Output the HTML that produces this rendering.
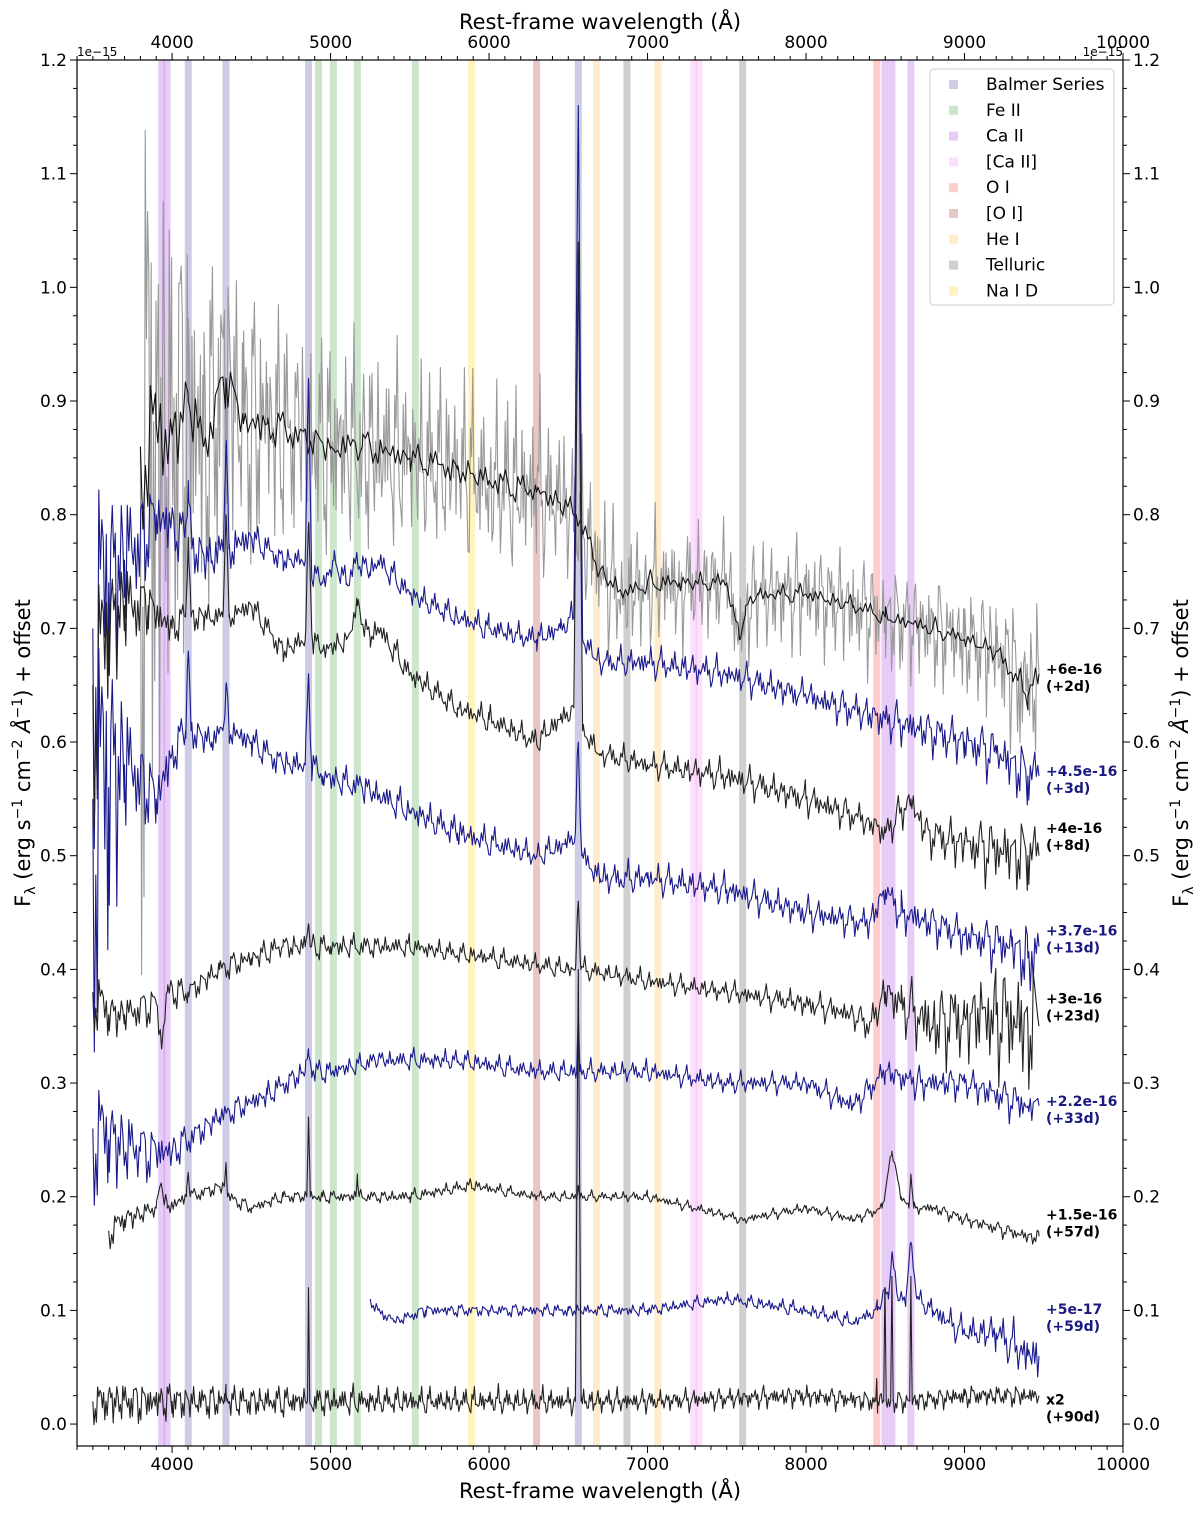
<!DOCTYPE html>
<html><head><meta charset="utf-8"><style>
body{margin:0;background:#fff;font-family:"Liberation Sans","DejaVu Sans",sans-serif}
svg text{font-family:"DejaVu Sans","Liberation Sans",sans-serif}
</style></head><body>
<svg id="c" width="1200" height="1512" xmlns="http://www.w3.org/2000/svg"></svg>
<script>
const bandLines=[{n:'Balmer Series',c:'#8080c0',l:[4102,4340,4861,6563]},{n:'Fe II',c:'#80c080',l:[4924,5018,5169,5535]},{n:'Ca II',c:'#c080e8',l:[3934,3968,8498,8542,8662]},{n:'[Ca II]',c:'#f4b0f4',l:[7291,7324]},{n:'O I',c:'#ff8080',l:[8446]},{n:'[O I]',c:'#c87070',l:[6300]},{n:'He I',c:'#ffd080',l:[6678,7065]},{n:'Telluric',c:'#888888',l:[6870,7600]},{n:'Na I D',c:'#ffe060',l:[5890]}];
const xTicks=[4000,5000,6000,7000,8000,9000,10000];
const yTicks=[0.0,0.1,0.2,0.3,0.4,0.5,0.6,0.7,0.8,0.9,1.0,1.1,1.2];
const s1Lam=[3800,3900,4000,4102,4200,4340,4450,4600,4800,5000,5200,5500,5800,6000,6300,6450,6550,6650,6700,6850,7000,7200,7500,7580,7620,7700,8000,8300,8500,8800,9000,9200,9300,9400,9470];
const s1Flux=[0.86,0.88,0.87,0.90,0.86,0.92,0.88,0.88,0.87,0.86,0.86,0.85,0.84,0.83,0.82,0.81,0.80,0.77,0.75,0.73,0.74,0.74,0.74,0.69,0.72,0.73,0.73,0.72,0.71,0.70,0.69,0.68,0.66,0.64,0.66];
const s1Noise=[0.30,0.22,0.15,0.12,0.10,0.09,0.08,0.07,0.06,0.06,0.06,0.05,0.05,0.05,0.05,0.04,0.04,0.04,0.04,0.035,0.035,0.035,0.03,0.03,0.03,0.03,0.03,0.03,0.03,0.03,0.03,0.035,0.04,0.05,0.05];
const s2Lam=[3500,3600,3700,3800,3900,4080,4102,4125,4250,4320,4340,4360,4500,4700,4840,4861,4880,4950,5000,5020,5100,5169,5250,5300,5500,5800,6000,6300,6450,6535,6563,6590,6700,7000,7500,8000,8500,9000,9200,9400,9470];
const s2Flux=[0.70,0.74,0.76,0.78,0.80,0.78,0.83,0.77,0.76,0.77,0.86,0.77,0.78,0.76,0.76,0.92,0.75,0.74,0.75,0.76,0.74,0.76,0.75,0.76,0.73,0.71,0.70,0.69,0.70,0.71,1.16,0.69,0.67,0.67,0.66,0.64,0.62,0.60,0.59,0.57,0.57];
const s2Noise=[0.18,0.10,0.06,0.04,0.03,0.02,0.02,0.02,0.02,0.02,0.02,0.02,0.012,0.01,0.01,0.01,0.01,0.01,0.01,0.01,0.01,0.01,0.01,0.01,0.01,0.01,0.01,0.01,0.01,0.01,0.01,0.01,0.01,0.012,0.012,0.012,0.015,0.018,0.02,0.025,0.025];
const s3Lam=[3500,3600,3700,3850,4000,4085,4102,4120,4200,4320,4340,4360,4500,4700,4840,4861,4885,4950,5100,5169,5250,5300,5500,5800,6000,6300,6450,6535,6563,6590,6700,7000,7500,8000,8400,8500,8662,8750,9000,9400,9470];
const s3Flux=[0.65,0.70,0.72,0.72,0.70,0.71,0.78,0.71,0.71,0.71,0.80,0.71,0.72,0.68,0.69,0.79,0.69,0.68,0.69,0.72,0.69,0.70,0.66,0.63,0.62,0.60,0.62,0.63,1.04,0.61,0.59,0.58,0.57,0.55,0.53,0.52,0.55,0.52,0.51,0.50,0.50];
const s3Noise=[0.12,0.06,0.04,0.02,0.015,0.012,0.012,0.012,0.012,0.01,0.01,0.01,0.01,0.01,0.01,0.01,0.01,0.01,0.01,0.01,0.01,0.01,0.01,0.01,0.01,0.01,0.01,0.01,0.01,0.01,0.01,0.01,0.012,0.012,0.012,0.012,0.015,0.015,0.02,0.03,0.03];
const s4Lam=[3500,3600,3700,3800,3900,4000,4085,4102,4120,4250,4320,4340,4360,4500,4700,4840,4861,4880,4950,5200,5500,5800,6300,6480,6545,6563,6585,6700,7000,7500,8000,8400,8500,8600,9000,9300,9400,9470];
const s4Flux=[0.55,0.56,0.58,0.57,0.55,0.59,0.61,0.68,0.61,0.60,0.61,0.65,0.61,0.60,0.58,0.58,0.66,0.58,0.57,0.56,0.54,0.52,0.50,0.51,0.52,0.60,0.50,0.48,0.48,0.47,0.45,0.44,0.47,0.45,0.43,0.42,0.41,0.42];
const s4Noise=[0.2,0.15,0.06,0.03,0.03,0.02,0.015,0.015,0.015,0.012,0.012,0.012,0.012,0.012,0.012,0.012,0.012,0.012,0.012,0.012,0.012,0.012,0.01,0.01,0.01,0.01,0.01,0.012,0.012,0.012,0.012,0.012,0.012,0.015,0.015,0.02,0.03,0.03];
const s5Lam=[3500,3600,3700,3900,3934,3970,4100,4300,4500,4700,4840,4861,4880,5000,5500,6000,6500,6545,6563,6580,7000,7500,8000,8300,8400,8500,8600,8800,9000,9200,9400,9470];
const s5Flux=[0.38,0.36,0.36,0.37,0.33,0.38,0.38,0.40,0.41,0.42,0.42,0.44,0.42,0.42,0.42,0.41,0.40,0.40,0.46,0.40,0.39,0.38,0.37,0.36,0.35,0.38,0.37,0.35,0.36,0.36,0.35,0.35];
const s5Noise=[0.03,0.02,0.015,0.015,0.015,0.015,0.01,0.01,0.01,0.01,0.01,0.01,0.01,0.01,0.008,0.008,0.008,0.008,0.008,0.008,0.008,0.008,0.01,0.01,0.012,0.015,0.02,0.03,0.035,0.04,0.05,0.05];
const s6Lam=[3500,3600,3800,4000,4300,4600,4840,4861,4880,5000,5300,5800,6300,6553,6563,6573,7000,7500,8000,8300,8500,8700,9000,9400,9470];
const s6Flux=[0.26,0.25,0.24,0.24,0.27,0.29,0.31,0.33,0.31,0.31,0.32,0.32,0.31,0.31,0.36,0.31,0.31,0.30,0.30,0.28,0.31,0.30,0.30,0.28,0.28];
const s6Noise=[0.06,0.04,0.025,0.015,0.01,0.01,0.01,0.01,0.01,0.008,0.008,0.008,0.008,0.008,0.008,0.008,0.008,0.008,0.008,0.01,0.01,0.012,0.012,0.015,0.015];
const s7Lam=[3600,3700,3900,3934,3970,4090,4102,4115,4330,4340,4350,4500,4700,4850,4861,4872,4950,5160,5169,5180,5500,5890,6300,6555,6563,6571,7000,7600,8000,8300,8480,8542,8600,8650,8662,8680,8800,9000,9400,9470];
const s7Flux=[0.17,0.18,0.19,0.21,0.19,0.20,0.22,0.20,0.21,0.23,0.20,0.19,0.20,0.20,0.27,0.20,0.20,0.20,0.22,0.20,0.20,0.21,0.20,0.20,0.21,0.20,0.20,0.18,0.19,0.18,0.19,0.24,0.20,0.19,0.22,0.19,0.19,0.18,0.165,0.165];
const s7Noise=[0.015,0.01,0.008,0.008,0.008,0.006,0.006,0.006,0.006,0.006,0.006,0.005,0.005,0.005,0.005,0.005,0.005,0.005,0.005,0.005,0.005,0.005,0.004,0.004,0.004,0.004,0.004,0.004,0.004,0.004,0.004,0.004,0.004,0.004,0.004,0.004,0.005,0.005,0.006,0.006];
const s8Lam=[5250,5300,5400,5600,6000,6500,7000,7500,8000,8300,8450,8498,8520,8542,8580,8630,8662,8700,8800,9000,9200,9400,9470];
const s8Flux=[0.11,0.10,0.09,0.10,0.10,0.10,0.10,0.11,0.10,0.09,0.10,0.12,0.11,0.15,0.11,0.11,0.16,0.11,0.10,0.08,0.08,0.06,0.06];
const s8Noise=[0.005,0.005,0.005,0.005,0.005,0.005,0.005,0.005,0.006,0.006,0.006,0.006,0.006,0.006,0.006,0.006,0.006,0.006,0.01,0.012,0.015,0.02,0.02];
const s9Lam=[3500,4000,4333,4340,4347,4854,4861,4868,5500,6000,6545,6563,6581,7000,8000,8440,8446,8452,8490,8498,8506,8534,8542,8550,8654,8662,8670,9000,9470];
const s9Flux=[0.02,0.02,0.02,0.035,0.02,0.02,0.12,0.02,0.02,0.02,0.02,0.40,0.02,0.02,0.025,0.02,0.04,0.02,0.02,0.12,0.02,0.02,0.13,0.02,0.02,0.13,0.02,0.025,0.025];
const s9Noise=[0.018,0.015,0.012,0.012,0.012,0.012,0.012,0.012,0.01,0.01,0.01,0.01,0.01,0.008,0.008,0.008,0.008,0.008,0.008,0.008,0.008,0.008,0.008,0.008,0.008,0.008,0.008,0.008,0.008];
const labelTexts=[['+6e-16','(+2d)',0.66,'#000'],['+4.5e-16','(+3d)',0.57,'#191980'],['+4e-16','(+8d)',0.52,'#000'],['+3.7e-16','(+13d)',0.43,'#191980'],['+3e-16','(+23d)',0.37,'#000'],['+2.2e-16','(+33d)',0.28,'#191980'],['+1.5e-16','(+57d)',0.18,'#000'],['+5e-17','(+59d)',0.097,'#191980'],['x2','(+90d)',0.017,'#000']];

const L=77,R=1123,T=60,B=1446,XMIN=3400,XMAX=10000,YMIN=-0.0193,YMAX=1.2;
const X=v=>L+(v-XMIN)/(XMAX-XMIN)*(R-L);
const Y=v=>B-(v-YMIN)/(YMAX-YMIN)*(B-T);
const svg=document.getElementById('c');const NS='http://www.w3.org/2000/svg';
function mk(t,a,p){const e=document.createElementNS(NS,t);for(const k in a)e.setAttribute(k,a[k]);(p||svg).appendChild(e);return e;}
function txt(x,y,s,a,p){const e=mk('text',Object.assign({x:x,y:y},a),p);e.textContent=s;return e;}
const gb=mk('g',{});
bandLines.forEach(b=>b.l.forEach(l=>{const r=mk('rect',{x:X(l)-3.5,y:T,width:7,height:B-T,fill:b.c,'fill-opacity':0.4},gb);

}));
function interp(lam,f,x){if(x<=lam[0])return f[0];for(let i=1;i<lam.length;i++)if(x<=lam[i]){const t=(x-lam[i-1])/(lam[i]-lam[i-1]);return f[i-1]+t*(f[i]-f[i-1]);}return f[f.length-1];}
function tex(i){return 0.45*Math.sin(i*2.713)+0.35*Math.sin(i*5.417+1.3)+0.25*Math.sin(i*1.173+2)+0.2*Math.sin(i*11.9+0.4);}
function spec(name,lam,f,nz,col,w,step,scale){
  const dl=step/(R-L)*(XMAX-XMIN);
  let ls=[];for(let l=lam[0];l<=lam[lam.length-1];l+=dl)ls.push(l);
  lam.forEach(l=>ls.push(l));ls.sort((a,b)=>a-b);
  const pts=ls.map((l,i)=>{const isD=lam.indexOf(l)>=0;
    let v=interp(lam,f,l)+(isD?0:scale*interp(lam,nz,l)*tex(i));
    v=Math.min(v,1.2);return X(l).toFixed(1)+','+Y(v).toFixed(1);});
  const p=mk('polyline',{points:pts.join(' '),fill:'none',stroke:col,'stroke-width':w,'stroke-linejoin':'round'});
  
  
}
spec('spectrum-2d-raw',s1Lam,s1Flux,s1Noise,'#999',1.1,1.2,1.8);
spec('spectrum-2d-smooth',s1Lam,s1Flux,s1Noise.map(v=>v*0.3),'#111',1.1,2.5,1);
spec('spectrum-3d',s2Lam,s2Flux,s2Noise,'#1a1a8c',1.1,1.5,1.3);
spec('spectrum-8d',s3Lam,s3Flux,s3Noise,'#222',1.1,1.5,1.3);
spec('spectrum-13d',s4Lam,s4Flux,s4Noise,'#1a1a8c',1.1,1.5,1.3);
spec('spectrum-23d',s5Lam,s5Flux,s5Noise,'#222',1.1,1.5,1.3);
spec('spectrum-33d',s6Lam,s6Flux,s6Noise,'#1a1a8c',1.1,1.5,1.3);
spec('spectrum-57d',s7Lam,s7Flux,s7Noise,'#222',1.1,1.5,1.3);
spec('spectrum-59d',s8Lam,s8Flux,s8Noise,'#1a1a8c',1.1,1.5,1.3);
spec('spectrum-90d',s9Lam,s9Flux,s9Noise,'#222',1.1,1.2,1.3);
const fr=mk('rect',{x:L,y:T,width:R-L,height:B-T,fill:'none',stroke:'#000','stroke-width':1.2});

for(let v=3400;v<=10000;v+=100){const x=X(v),mj=v%1000===0,len=mj?7:4;
 mk('line',{x1:x,x2:x,y1:B,y2:B+len,stroke:'#000'});mk('line',{x1:x,x2:x,y1:T,y2:T-len,stroke:'#000'});}
xTicks.forEach(v=>{const a=txt(X(v),B+24,String(v),{'font-size':17,'text-anchor':'middle'});
 const b=txt(X(v),T-12,String(v),{'font-size':17,'text-anchor':'middle'});});
for(let k=0;k<=48;k++){const v=k*0.025,y=Y(v),mj=k%4===0,len=mj?7:4;
 mk('line',{x1:L,x2:L-len,y1:y,y2:y,stroke:'#000'});mk('line',{x1:R,x2:R+len,y1:y,y2:y,stroke:'#000'});}
yTicks.forEach(v=>{const s=v.toFixed(1);const a=txt(L-10,Y(v)+6,s,{'font-size':17,'text-anchor':'end'});
 const b=txt(R+10,Y(v)+6,s,{'font-size':17});});
txt(L,T-4,'1e\u221215',{'font-size':12});txt(R,T-4,'1e\u221215',{'font-size':12,'text-anchor':'end'});
let t=txt(600,1498,'Rest-frame wavelength (Å)',{'font-size':21,'text-anchor':'middle'});
t=txt(600,29,'Rest-frame wavelength (Å)',{'font-size':21,'text-anchor':'middle'});
function ylab(x,name){const e=mk('text',{x:0,y:0,'font-size':21,'text-anchor':'middle',transform:'translate('+x+',753) rotate(-90)'});
 e.innerHTML='F<tspan font-size="14" dy="5">λ</tspan><tspan dy="-5"> (erg s</tspan><tspan font-size="14" dy="-8">−1</tspan><tspan dy="8"> cm</tspan><tspan font-size="14" dy="-8">−2</tspan><tspan dy="8"> </tspan><tspan font-style="italic">Å</tspan><tspan font-size="14" dy="-8">−1</tspan><tspan dy="8">) + offset</tspan>';
 }
ylab(30,'y-axis-title');ylab(1188,'right-y-axis-title');
labelTexts.forEach(a=>{const y=Y(a[2]);const g=mk('g',{});
 txt(1046,y,a[0],{'font-size':14,'font-weight':'bold',fill:a[3]},g);txt(1046,y+17,a[1],{'font-size':14,'font-weight':'bold',fill:a[3]},g);});
const lg=mk('g',{});
mk('rect',{x:930,y:69,width:184,height:236,rx:4,fill:'#fff','fill-opacity':0.85,stroke:'#ccc'},lg);
bandLines.forEach((b,i)=>{const y=84+i*25.8;const e=mk('g',{},lg);
 mk('rect',{x:949,y:y-4,width:9,height:9,fill:b.c,'fill-opacity':0.4},e);txt(986,y+6,b.n,{'font-size':17},e);});
</script></body></html>
